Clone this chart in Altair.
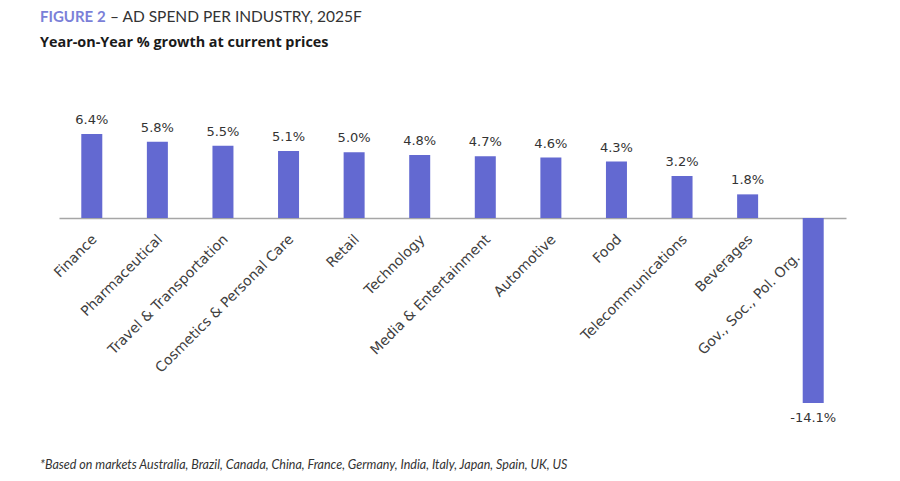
import altair as alt
import pandas as pd

industries = ["Finance", "Pharmaceutical", "Travel & Transportation", "Cosmetics & Personal Care",
              "Retail", "Technology", "Media & Entertainment", "Automotive", "Food",
              "Telecommunications", "Beverages", "Gov., Soc., Pol. Org."]
growth = [6.4, 5.8, 5.5, 5.1, 5.0, 4.8, 4.7, 4.6, 4.3, 3.2, 1.8, -14.1]

df = pd.DataFrame({"industry": industries, "growth": growth})
df["label"] = [f"{v:.1f}%" for v in growth]

W, H = 787, 269
BAR = "#6369D1"
FONT = "DejaVu Sans"
TFONT = "Lato"
GOV = "datum.label == 'Gov., Soc., Pol. Org.'"

x_enc = alt.X("industry:N", sort=industries,
              scale=alt.Scale(paddingInner=0, paddingOuter=0),
              axis=alt.Axis(title=None, labelAngle=-45, labelAlign="right", labelBaseline="top",
                            labelPadding={"condition": {"test": GOV, "value": 32}, "value": 14},
                            labelOffset={"condition": {"test": GOV, "value": -20}, "value": -2},
                            ticks=False, domainColor="#a6a6a6", domainWidth=1.5,
                            labelFont=FONT, labelFontSize=14, labelColor="#404040",
                            offset=-185, labelOverlap=False, labelLimit=300))
y_enc = alt.Y("growth:Q", scale=alt.Scale(domain=[-14.1, 6.4], nice=False, zero=True), axis=None)

bars = alt.Chart(df).mark_bar(size=21, color=BAR).encode(x=x_enc, y=y_enc)

pos = alt.Chart(df).transform_filter("datum.growth >= 0").mark_text(
    baseline="bottom", dy=-7, font=FONT, fontSize=13, color="#333333"
).encode(x=alt.X("industry:N", sort=industries), y="growth:Q", text="label:N")

neg = alt.Chart(df).transform_filter("datum.growth < 0").mark_text(
    baseline="top", dy=9, font=FONT, fontSize=13, color="#333333"
).encode(x=alt.X("industry:N", sort=industries), y="growth:Q", text="label:N")

title1 = alt.Chart(pd.DataFrame({"t": ["FIGURE 2"]})).mark_text(
    align="left", baseline="middle", font=TFONT, fontSize=15, fontWeight="bold", color="#7B7FD8"
).encode(x=alt.value(-19), y=alt.value(-117), text="t:N")

title2 = alt.Chart(pd.DataFrame({"t": ["– AD SPEND PER INDUSTRY, 2025F"]})).mark_text(
    align="left", baseline="middle", font=TFONT, fontSize=15.5, color="#333333"
).encode(x=alt.value(51), y=alt.value(-117), text="t:N")

subtitle = alt.Chart(pd.DataFrame({"t": ["Year-on-Year % growth at current prices"]})).mark_text(
    align="left", baseline="middle", font="Open Sans", fontSize=14.4, fontWeight="bold", color="#1a1a1a"
).encode(x=alt.value(-19), y=alt.value(-91), text="t:N")

foot = alt.Chart(pd.DataFrame({"t": ["*Based on markets Australia, Brazil, Canada, China, France, Germany, India, Italy, Japan, Spain, UK, US"]})).mark_text(
    align="left", baseline="middle", font=TFONT, fontSize=12.5, fontStyle="italic", color="#333333"
).encode(x=alt.value(-19), y=alt.value(331), text="t:N")

chart = alt.layer(bars, pos, neg, title1, title2, subtitle, foot).properties(
    width=W, height=H,
    autosize=alt.AutoSizeParams(type="none"),
    padding={"left": 51, "top": 126, "right": 46, "bottom": 70},
).configure(background="white", view={"stroke": "transparent"})

chart.save("out.html", embed_options={"renderer": "svg", "actions": False})
